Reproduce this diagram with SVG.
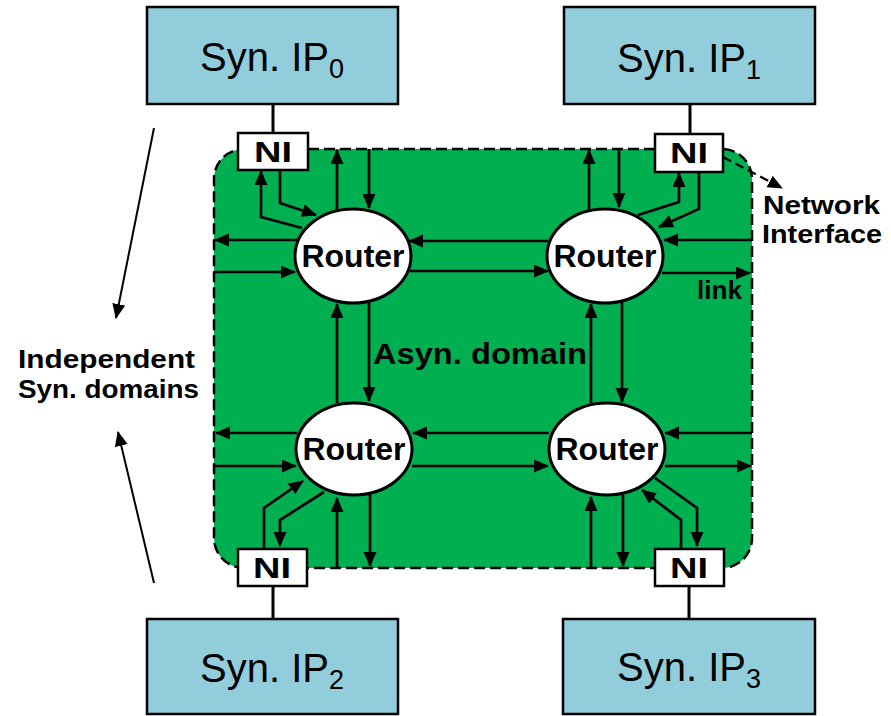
<svg xmlns="http://www.w3.org/2000/svg" width="891" height="716" viewBox="0 0 891 716">
  <defs>
    <marker id="arrow" markerUnits="userSpaceOnUse" markerWidth="16" markerHeight="14" refX="14" refY="6.5" orient="auto">
      <path d="M0,0 L15,6.5 L0,13 z" fill="#000"/>
    </marker>
    <style>
      .ip { fill: #92CDDC; stroke: #000; stroke-width: 2.5; }
      .ni { fill: #fff; stroke: #000; stroke-width: 2.5; }
      .router { fill: #fff; stroke: #000; stroke-width: 3; }
      .stem { stroke: #000; stroke-width: 3; fill: none; }
      .link { stroke: #000; stroke-width: 2.7; fill: none; marker-end: url(#arrow); }
      .thin { stroke: #000; stroke-width: 2; fill: none; marker-end: url(#arrow); }
      .dash { stroke: #000; stroke-width: 2.3; fill: none; stroke-dasharray: 9 5; marker-end: url(#arrow); }
      .ipText { font-family: "Liberation Sans", Arial, sans-serif; font-size: 40px; fill: #000; text-anchor: middle; }
      .bold { font-family: "Liberation Sans", Arial, sans-serif; font-weight: bold; fill: #000; }
      .rt { font-size: 32px; text-anchor: middle; }
      .niText { font-size: 30px; text-anchor: middle; }
      .lbl { font-size: 26px; }
    </style>
  </defs>

  <!-- asynchronous NoC domain -->
  <g id="asyn-domain">
    <rect x="214" y="149" width="538" height="419" rx="30" ry="30" fill="#00B050" stroke="#000" stroke-width="2.5" stroke-dasharray="11 5"/>
  </g>

  <!-- IP blocks and their links to the network interfaces -->
  <g id="ip0">
    <rect class="ip" x="147" y="7" width="251" height="97"/>
    <text class="ipText" x="272" y="71">Syn. IP<tspan font-size="27" dy="7">0</tspan></text>
    <line class="stem" x1="273" y1="104" x2="273" y2="133"/>
  </g>
  <g id="ip1">
    <rect class="ip" x="564" y="7" width="251" height="97"/>
    <text class="ipText" x="689" y="72">Syn. IP<tspan font-size="27" dy="7">1</tspan></text>
    <line class="stem" x1="690" y1="104" x2="690" y2="134"/>
  </g>
  <g id="ip2">
    <rect class="ip" x="147" y="619" width="251" height="95"/>
    <text class="ipText" x="272" y="682">Syn. IP<tspan font-size="27" dy="7">2</tspan></text>
    <line class="stem" x1="273" y1="586" x2="273" y2="619"/>
  </g>
  <g id="ip3">
    <rect class="ip" x="563" y="619" width="252" height="95"/>
    <text class="ipText" x="689" y="681">Syn. IP<tspan font-size="27" dy="7">3</tspan></text>
    <line class="stem" x1="689" y1="586" x2="689" y2="619"/>
  </g>

  <!-- links -->
  <g id="connectors">
    <!-- router (0,0) -->
    <path class="link" d="M297,240 H215"/>
    <path class="link" d="M214,272 H295"/>
    <path class="link" d="M337,211 V150"/>
    <path class="link" d="M369,149 V208"/>
    <path class="link" d="M280,170 V203 L316,215"/>
    <path class="link" d="M302,228 L261,217 V171"/>
    <path class="link" d="M548,241 H409"/>
    <path class="link" d="M410,271 H548"/>
    <!-- router (0,1) -->
    <path class="link" d="M589,210 V150"/>
    <path class="link" d="M619,149 V207"/>
    <path class="link" d="M638,215 L679,202 V173"/>
    <path class="link" d="M699,172 V209 L659,227"/>
    <path class="link" d="M752,240 H664"/>
    <path class="link" d="M662,273 H750"/>
    <!-- vertical links between rows -->
    <path class="link" d="M337,403 V304"/>
    <path class="link" d="M369,302 V401"/>
    <path class="link" d="M591,403 V304"/>
    <path class="link" d="M622,302 V402"/>
    <!-- router (1,0) -->
    <path class="link" d="M297,433 H216"/>
    <path class="link" d="M214,466 H296"/>
    <path class="link" d="M549,433 H413"/>
    <path class="link" d="M412,466 H548"/>
    <path class="link" d="M370,495 V566"/>
    <path class="link" d="M337,568 V498"/>
    <path class="link" d="M264,549 V508 L303,481"/>
    <path class="link" d="M324,492 L280,520 V546"/>
    <!-- router (1,1) -->
    <path class="link" d="M752,433 H665"/>
    <path class="link" d="M665,466 H751"/>
    <path class="link" d="M591,568 V497"/>
    <path class="link" d="M623,495 V566"/>
    <path class="link" d="M655,478 L697,508 V546"/>
    <path class="link" d="M681,549 V520 L642,490"/>
    <!-- annotations -->
    <path class="dash" d="M723,157 L782,188"/>
    <path class="thin" d="M154,128 L116,318"/>
    <path class="thin" d="M154,583 L118,432"/>
  </g>

  <!-- routers -->
  <g id="router00">
    <ellipse class="router" cx="353" cy="256" rx="58" ry="47"/>
    <text class="bold rt" x="353" y="267" textLength="103" lengthAdjust="spacingAndGlyphs">Router</text>
  </g>
  <g id="router01">
    <ellipse class="router" cx="605" cy="256" rx="58" ry="47"/>
    <text class="bold rt" x="605" y="267" textLength="103" lengthAdjust="spacingAndGlyphs">Router</text>
  </g>
  <g id="router10">
    <ellipse class="router" cx="354" cy="449" rx="58" ry="46"/>
    <text class="bold rt" x="354" y="460" textLength="103" lengthAdjust="spacingAndGlyphs">Router</text>
  </g>
  <g id="router11">
    <ellipse class="router" cx="607" cy="449" rx="58" ry="46"/>
    <text class="bold rt" x="607" y="460" textLength="103" lengthAdjust="spacingAndGlyphs">Router</text>
  </g>

  <!-- network interfaces -->
  <g id="ni0">
    <rect class="ni" x="238" y="133" width="70" height="37"/>
    <text class="bold niText" x="273" y="162" textLength="38" lengthAdjust="spacingAndGlyphs">NI</text>
  </g>
  <g id="ni1">
    <rect class="ni" x="655" y="134" width="68" height="38"/>
    <text class="bold niText" x="689" y="163" textLength="38" lengthAdjust="spacingAndGlyphs">NI</text>
  </g>
  <g id="ni2">
    <rect class="ni" x="238" y="549" width="69" height="37"/>
    <text class="bold niText" x="272" y="578" textLength="38" lengthAdjust="spacingAndGlyphs">NI</text>
  </g>
  <g id="ni3">
    <rect class="ni" x="655" y="549" width="69" height="37"/>
    <text class="bold niText" x="689" y="578" textLength="38" lengthAdjust="spacingAndGlyphs">NI</text>
  </g>

  <!-- labels -->
  <g id="labels">
    <text class="bold" font-size="29" x="373" y="364" textLength="214" lengthAdjust="spacingAndGlyphs">Asyn. domain</text>
    <text class="bold" font-size="25" x="697" y="299" textLength="45" lengthAdjust="spacingAndGlyphs">link</text>
    <text class="bold lbl" x="763" y="214" textLength="117" lengthAdjust="spacingAndGlyphs">Network</text>
    <text class="bold lbl" x="762" y="243" textLength="120" lengthAdjust="spacingAndGlyphs">Interface</text>
    <text class="bold lbl" x="18" y="368" textLength="177" lengthAdjust="spacingAndGlyphs">Independent</text>
    <text class="bold lbl" x="18" y="398" textLength="181" lengthAdjust="spacingAndGlyphs">Syn. domains</text>
  </g>
</svg>
